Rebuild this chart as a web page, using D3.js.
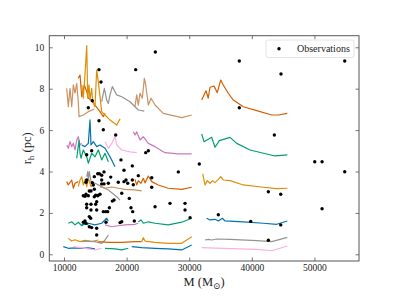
<!DOCTYPE html>
<html>
<head>
<meta charset="utf-8">
<script src="https://cdn.jsdelivr.net/npm/d3@7"></script>
<style>
  body { margin: 0; background: #fff; }
  svg text { font-family: "Liberation Serif", "DejaVu Serif", serif; fill: #222; }
</style>
</head>
<body>
<svg id="chart" width="399" height="299"></svg>
<script>
// ---- data: [mass (Msun), r_h (pc)] ----
// model tracks, first set (low mass)
const tanTopA = [[10430,8.02],[10690,7.13],[10960,8.02],[11230,7.13],[11490,8.18],[11760,7.78],[12030,8.26],[12280,7.37],[12400,6.65],[13080,6.73],[13880,6.89],[14840,7.02]];
const vermTopA = [[12280,8.50],[12560,8.66],[12830,7.61],[13240,8.18],[13630,7.86],[13880,7.54],[14420,7.45],[14950,7.21],[15750,6.89],[16280,6.65],[16550,6.81]];
const orangeTopA = [[12830,8.18],[13080,7.54],[13350,8.66],[13630,10.08],[13790,7.54],[13990,8.18],[14150,7.45],[14420,8.02],[14580,7.37],[14950,7.13],[15220,8.90],[15480,8.34],[16020,6.89],[16550,6.73],[17350,6.49],[18420,6.25],[18950,6.54]];
const grayTopA = [[16020,7.37],[16440,8.02],[16820,7.45],[17080,7.29],[17350,7.70],[17720,8.10],[18420,7.70],[19220,7.61],[20540,7.37],[21870,6.97],[22830,6.92]];
const purpleMidA = [[10430,5.28],[10690,5.12],[10960,5.44],[11230,5.20],[11490,5.36],[11760,5.04],[12030,5.52],[12280,5.68],[12560,5.28],[12830,5.36]];
const blueMidA = [[12830,5.28],[13350,5.20],[13880,5.36],[14150,6.49],[14310,5.28],[14680,5.44],[15220,5.20],[15750,5.28],[16550,5.12],[17350,4.71],[18150,4.23]];
const greenMidA = [[12030,4.64],[12400,5.50],[12560,4.88],[12720,4.64],[13080,5.04],[13630,4.71],[13880,4.40],[14420,4.88],[14950,4.71],[15480,5.04],[16020,4.56],[16550,4.88],[17080,4.47]];
const pinkMidA = [[16550,5.44],[17080,5.12],[17620,5.36],[18150,5.68],[18420,5.28],[19220,5.04],[20540,4.95],[21610,4.91]];
const vermLowA = [[10430,3.51],[10690,3.35],[11230,3.59],[11490,3.19],[11760,3.43],[12280,3.51]];
const orangeLowA = [[12280,3.27],[12560,3.59],[12830,3.75],[13080,3.35],[13350,3.60],[13630,3.27],[13880,3.67],[14310,3.27],[14680,3.43]];
const grayLowA = [[13630,3.75],[13790,3.99],[13880,3.60],[14040,3.99],[14310,3.51],[14950,3.43],[16020,3.27],[17080,3.11],[18420,2.78],[18950,2.62]];
const tanLowA = [[15750,3.27],[16550,3.19],[17620,3.25],[18670,3.19],[19740,3.14],[21340,3.11],[22410,3.06]];
const greenLowA = [[10690,1.50],[11230,1.57],[11760,1.42],[12280,1.55],[12830,1.38],[13350,1.50],[13880,1.42]];
const blueLowA = [[12830,1.42],[13880,1.50],[14950,1.42],[16020,1.50],[16820,1.74],[17080,1.61]];
const purpleLowA = [[16550,1.42],[17620,1.33],[18670,1.38],[19740,1.42],[21340,1.45],[21870,1.50]];
const orangeBotA = [[10690,0.77],[11230,0.64],[11760,0.70],[12560,0.61],[13350,0.68],[14420,0.61],[15480,0.69]];
const grayBotA = [[12830,0.61],[13880,0.64],[14950,0.61],[16020,0.53],[16550,0.69],[17080,0.93]];
const blueBotA = [[9890,0.37],[10690,0.29],[11760,0.31],[12830,0.29],[13880,0.31],[14950,0.26]];
const pinkBotA = [[11490,0.37],[12830,0.31],[13880,0.26],[14950,0.21],[16020,0.29]];
const greenBotA = [[16550,0.29],[18150,0.26],[19220,0.21],[20270,0.29]];

// model tracks, second set
const tanTopB = [[21340,7.13],[21610,7.70],[21870,7.21],[22140,7.78],[22510,7.54],[22830,8.50],[23050,8.18],[23470,7.21],[23900,7.54],[24540,7.21],[25860,6.81],[28800,6.60],[30400,6.73]];
const purpleMidB = [[21070,5.92],[21340,5.76],[21610,5.92],[22140,5.52],[22670,5.68],[23470,5.36],[24540,5.20],[26130,4.91],[28260,4.85],[30400,4.85]];
const vermLowB = [[21340,3.62],[21610,3.35],[21870,3.55],[22300,3.43],[22670,3.67],[22940,3.45],[23470,3.78],[24010,3.51],[25060,3.35],[26660,3.19],[28800,3.14],[30400,3.24]];
const greenLowB = [[21870,1.57],[22300,1.66],[22670,1.50],[23470,1.57],[24540,1.50],[26660,1.42],[28800,1.55],[30400,1.74]];
const vermBotB = [[15480,0.61],[17080,0.58],[19220,0.58],[21340,0.61],[22410,0.61]];
const orangeBotB = [[22410,0.61],[22670,0.80],[22940,0.64],[24540,0.58],[26660,0.53],[28800,0.53],[30400,0.85]];
const blueBotB = [[20810,0.37],[22410,0.32],[24540,0.29],[26660,0.26],[28800,0.21],[30400,0.45]];

// model tracks, third set (high mass)
const vermC = [[31990,7.45],[32680,7.90],[33040,7.54],[33320,8.07],[33950,8.13],[34480,7.81],[35030,8.42],[35440,8.18],[36240,7.78],[37040,7.45],[38640,7.13],[40780,6.94],[43180,6.73],[44240,6.73],[45670,6.81]];
const greenC = [[31990,5.81],[32360,5.44],[33040,5.56],[33590,5.65],[34120,5.17],[34810,5.49],[36520,5.65],[37590,5.36],[39710,5.04],[43710,4.75],[45670,4.80]];
const orangeC = [[32160,3.88],[32520,3.35],[32890,3.56],[33320,3.43],[33750,3.56],[34120,3.46],[34650,3.62],[35030,3.75],[35440,3.59],[36520,3.56],[38640,3.35],[41840,3.24],[43980,3.17],[45670,3.19]];
const blueC = [[32790,1.74],[33320,1.66],[34120,1.69],[34650,1.61],[35290,1.74],[35720,1.61],[38640,1.57],[41840,1.50],[43980,1.45],[45670,1.61]];
const grayC = [[32520,0.69],[33040,0.72],[33590,0.69],[34390,0.74],[36520,0.72],[40780,0.66],[43180,0.61],[45670,0.82]];
const pinkC = [[31990,0.32],[35440,0.29],[40780,0.24],[43180,0.17],[45670,0.40]];

// observed clusters
const observations = [
  [13880,7.08],[14520,7.42],[15590,8.92],[15910,8.32],[15590,6.45],[16280,6.02],[18260,5.76],[21450,8.92],[24590,9.77],
  [38000,9.34],[44660,8.71],[54840,9.34],[38000,7.08],[43600,5.76],
  [50050,4.47],[51220,4.47],[54840,3.99],[51220,2.20],
  [31610,4.36],[42640,3.02],[44620,2.90],[34650,1.91],[39820,1.59],[44620,1.42],[42640,0.68],
  [13620,4.81],[14420,5.00],[23050,4.91],[23470,5.00],[19100,4.56],[20910,4.27],[19580,4.06],[28260,3.98],
  [15380,3.89],[15640,3.89],[16020,3.82],[16390,3.98],[14840,3.75],[17460,3.73],[13620,3.59],[13510,3.48],
  [14520,3.46],[14680,3.35],[16020,3.59],[16020,3.40],[16390,3.40],[17080,3.43],[18670,3.48],[19580,3.51],
  [20180,3.43],[19900,3.59],[20910,3.59],[21870,3.80],[24010,3.70],[21070,3.36],[24010,3.24],
  [14040,3.06],[14310,3.06],[14840,3.14],[15750,2.90],[15380,2.83],[13510,2.90],[13880,2.83],[13350,2.80],
  [13080,2.83],[14840,2.78],[19220,2.95],[15060,2.86],[15490,2.86],
  [15220,2.54],[15060,2.42],[13620,2.42],[14310,2.42],[14310,2.14],[15220,2.14],[13620,2.25],
  [16280,2.06],[16660,2.06],[16980,2.06],[17240,2.25],[17720,2.57],[17990,2.62],[20430,2.70],[20700,2.25],
  [20970,2.06],[24540,2.30],[26930,2.46],[29330,2.46],[29330,2.14],[30130,1.77],[21230,1.61],[19220,1.57],
  [18950,1.53],[16710,1.55],[13350,1.61],[13080,1.55],[13510,1.50],[14040,1.82],[14260,1.74],[14040,1.33],
  [14420,1.29],[15220,1.26],[15220,0.93]
];

const xTicks = [10000, 20000, 30000, 40000, 50000];
const yTicks = [0, 2, 4, 6, 8, 10];

// ---- layout ----
const W = 399, H = 299;
const margin = {top: 35.7, right: 40, bottom: 38, left: 49.3};
const iw = W - margin.left - margin.right;
const ih = H - margin.top - margin.bottom;

const pal = {blue: "#0173b2", orange: "#de8f05", green: "#029e73", verm: "#d55e00",
             purple: "#cc78bc", tan: "#ca9161", pink: "#fbafe4", gray: "#949494"};

const tracks = [
  [tanTopA, pal.tan], [vermTopA, pal.verm], [orangeTopA, pal.orange], [grayTopA, pal.gray],
  [purpleMidA, pal.purple], [greenMidA, pal.green], [blueMidA, pal.blue], [pinkMidA, pal.pink],
  [vermLowA, pal.verm], [orangeLowA, pal.orange], [grayLowA, pal.gray], [tanLowA, pal.tan],
  [greenLowA, pal.green], [blueLowA, pal.blue], [purpleLowA, pal.purple],
  [orangeBotA, pal.orange], [grayBotA, pal.gray], [blueBotA, pal.blue], [pinkBotA, pal.pink], [greenBotA, pal.green],
  [tanTopB, pal.tan], [purpleMidB, pal.purple], [vermLowB, pal.verm], [greenLowB, pal.green],
  [vermBotB, pal.verm], [orangeBotB, pal.orange], [blueBotB, pal.blue],
  [vermC, pal.verm], [greenC, pal.green], [orangeC, pal.orange], [blueC, pal.blue], [grayC, pal.gray], [pinkC, pal.pink]
];

const svg = d3.select("#chart");
const g = svg.append("g").attr("transform", `translate(${margin.left},${margin.top})`);

const x = d3.scaleLinear().domain([7650, 57120]).range([0, iw]);
const y = d3.scaleLinear().domain([-0.324, 10.56]).range([ih, 0]);

const line = d3.line().x(d => x(d[0])).y(d => y(d[1]));

g.selectAll(".track")
  .data(tracks)
  .enter().append("path")
  .attr("class", "track")
  .attr("d", d => line(d[0]))
  .attr("fill", "none")
  .attr("stroke", d => d[1])
  .attr("stroke-width", 1.2)
  .attr("stroke-linejoin", "round");

g.selectAll(".obs")
  .data(observations)
  .enter().append("circle")
  .attr("class", "obs")
  .attr("cx", d => x(d[0]))
  .attr("cy", d => y(d[1]))
  .attr("r", 1.7)
  .attr("fill", "#000");

// axes: inward ticks on all four sides
const tickLen = 3.5;
const frameCol = "#555";
function styleAxis(sel, showLabels) {
  sel.select(".domain").remove();
  sel.selectAll(".tick line").attr("stroke", frameCol).attr("stroke-width", 0.8);
  sel.selectAll(".tick text").style("font-size", "9.5px");
  if (!showLabels) sel.selectAll(".tick text").remove();
}
g.append("g").attr("transform", `translate(0,${ih})`)
  .call(d3.axisBottom(x).tickValues(xTicks).tickSizeInner(-tickLen).tickPadding(3).tickFormat(d3.format("d")))
  .call(s => styleAxis(s, true));
g.append("g")
  .call(d3.axisTop(x).tickValues(xTicks).tickSizeInner(-tickLen))
  .call(s => styleAxis(s, false));
g.append("g")
  .call(d3.axisLeft(y).tickValues(yTicks).tickSizeInner(-tickLen).tickPadding(5))
  .call(s => styleAxis(s, true));
g.append("g").attr("transform", `translate(${iw},0)`)
  .call(d3.axisRight(y).tickValues(yTicks).tickSizeInner(-tickLen))
  .call(s => styleAxis(s, false));

g.append("rect")
  .attr("width", iw).attr("height", ih)
  .attr("fill", "none").attr("stroke", frameCol).attr("stroke-width", 1);

// axis labels
const xl = svg.append("text")
  .attr("x", margin.left + iw / 2).attr("y", 286)
  .attr("text-anchor", "middle").style("font-size", "12.5px");
xl.append("tspan").text("M (M");
xl.append("tspan").attr("dy", 2.5).style("font-size", "9px").text("⊙");
xl.append("tspan").attr("dy", -2.5).text(")");

const yl = svg.append("text")
  .attr("transform", `translate(31,${margin.top + ih / 2}) rotate(-90)`)
  .attr("text-anchor", "middle").style("font-size", "12.5px");
yl.append("tspan").text("r");
yl.append("tspan").attr("dy", 2.5).style("font-size", "9px").text("h");
yl.append("tspan").attr("dy", -2.5).text(" (pc)");

// legend
const lg = svg.append("g").attr("transform", "translate(266,40)");
lg.append("rect").attr("width", 88).attr("height", 17.5).attr("rx", 2)
  .attr("fill", "#fff").attr("fill-opacity", 0.8).attr("stroke", "#ddd").attr("stroke-width", 0.8);
lg.append("circle").attr("cx", 13).attr("cy", 8.7).attr("r", 1.7).attr("fill", "#000");
lg.append("text").attr("x", 31).attr("y", 12.2).style("font-size", "10px").text("Observations");
</script>
</body>
</html>
